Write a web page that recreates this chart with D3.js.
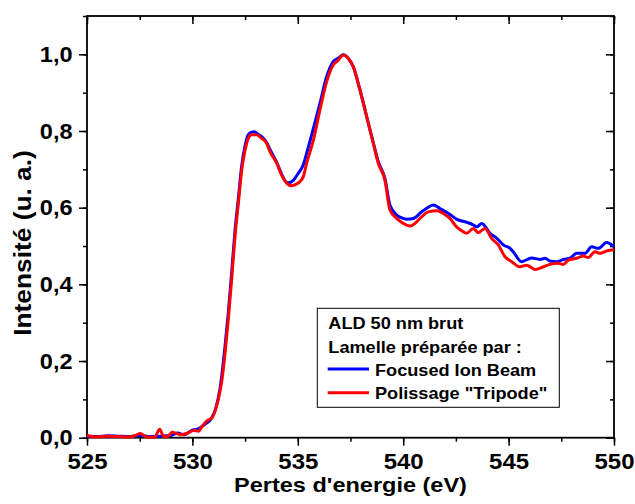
<!DOCTYPE html>
<html><head><meta charset="utf-8">
<script src="https://cdn.jsdelivr.net/npm/d3@7"></script>
<style>body{margin:0;background:#fff}svg{display:block}text{font-family:"Liberation Sans",Arial,sans-serif;font-weight:bold}</style>
</head><body><div id="c"></div>
<script>
// Data
const energyFIB = [525,525.5,526,526.5,527,527.5,528,528.5,529,529.3,529.6,530,530.3,530.6,530.9,531.1,531.3,531.55,531.7,531.86,532.02,532.18,532.34,532.5,532.65,532.8,532.94,533.1,533.3,533.52,533.7,534.0,534.23,534.4,534.55,534.8,535.0,535.26,535.42,535.74,536.05,536.37,536.68,536.92,537.16,537.39,537.63,537.95,538.27,538.58,538.82,539.14,539.37,539.69,540.0,540.17,540.48,540.87,541.1,541.43,541.74,542.15,542.53,543.01,543.3,543.49,543.73,544.12,544.44,544.75,545.07,545.22,545.62,546.09,546.49,546.73,546.96,547.28,547.6,547.91,548.23,548.62,548.94,549.26,549.65,550];
const intensityFIB = [0.004,0.003,0.005,0.004,0.003,0.006,0.003,0.004,0.006,0.012,0.008,0.02,0.024,0.035,0.05,0.075,0.125,0.24,0.325,0.43,0.54,0.625,0.71,0.762,0.79,0.797,0.798,0.792,0.785,0.77,0.75,0.718,0.688,0.67,0.665,0.672,0.688,0.712,0.742,0.807,0.872,0.942,0.981,0.99,0.999,0.99,0.968,0.907,0.837,0.77,0.72,0.675,0.607,0.581,0.572,0.57,0.572,0.589,0.598,0.607,0.598,0.585,0.57,0.562,0.556,0.55,0.559,0.533,0.52,0.503,0.494,0.485,0.459,0.469,0.465,0.468,0.461,0.459,0.465,0.468,0.481,0.481,0.498,0.494,0.509,0.498];
const energyTripode = [525,525.5,526,526.5,527,527.3,527.53,527.8,528.2,528.45,528.64,528.85,529.03,529.43,529.74,530.06,530.3,530.45,530.69,530.93,531.09,531.25,531.4,531.55,531.7,531.86,532.02,532.18,532.34,532.5,532.65,532.81,533.05,533.28,533.52,533.68,534.0,534.23,534.47,534.71,534.95,535.1,535.26,535.42,535.74,536.05,536.37,536.68,536.92,537.16,537.39,537.63,537.95,538.27,538.58,538.82,539.14,539.37,539.69,540.0,540.32,540.56,540.87,541.19,541.59,541.9,542.22,542.53,542.77,543.01,543.32,543.56,543.88,544.19,544.51,544.83,545.15,545.54,545.86,546.25,546.65,546.96,547.36,547.6,547.83,548.23,548.54,548.78,549.1,549.34,549.65,550];
const intensityTripode = [0.006,0.002,0.004,0.003,0.002,0.006,0.011,0.002,0.001,0.022,0.002,0.004,0.014,0.008,0.011,0.019,0.017,0.029,0.044,0.052,0.072,0.105,0.15,0.22,0.307,0.411,0.524,0.611,0.698,0.75,0.781,0.79,0.79,0.781,0.768,0.746,0.716,0.685,0.664,0.657,0.662,0.668,0.681,0.716,0.776,0.855,0.929,0.972,0.985,0.998,0.99,0.968,0.907,0.837,0.768,0.716,0.67,0.594,0.572,0.559,0.552,0.559,0.576,0.589,0.592,0.585,0.572,0.55,0.54,0.533,0.546,0.535,0.546,0.52,0.503,0.472,0.459,0.446,0.45,0.439,0.446,0.452,0.455,0.452,0.463,0.468,0.474,0.47,0.485,0.481,0.487,0.49];
const xTicks = [525,530,535,540,545,550];
const yTicks = [0,0.2,0.4,0.6,0.8,1.0];
const legendTitle = ["ALD 50 nm brut","Lamelle préparée par :"];
const seriesNames = ["Focused Ion Beam","Polissage \"Tripode\""];
const seriesColors = ["#0000ff","#ff0000"];

const W=635,H=504;
const m={l:87,r:614,t:16,b:437.7};
const x=d3.scaleLinear().domain([525,550]).range([m.l,m.r]);
const y=d3.scaleLinear().domain([0,1.1]).range([m.b,m.t]);
const svg=d3.select("#c").append("svg").attr("width",W).attr("height",H);

const fmt=d3.formatLocale({decimal:",",thousands:".",grouping:[3],currency:["",""]}).format(".1f");
const xMinor=d3.range(525,550.01,2.5), yMinor=d3.range(0,1.101,0.1);

function styleAxis(g){g.selectAll("path,line").attr("stroke","#000").attr("stroke-width",1.5);}
function wideText(sel,tx,ty,k,rot){
  sel.attr("x",0).attr("y",0).attr("transform",`translate(${tx},${ty})${rot?` rotate(${rot})`:""} scale(${k},1)`);
  return sel;
}
// minor ticks
svg.append("g").attr("transform",`translate(0,${m.b})`).call(d3.axisBottom(x).tickValues(xMinor).tickSize(4).tickFormat("")).call(styleAxis);
svg.append("g").attr("transform",`translate(0,${m.t})`).call(d3.axisBottom(x).tickValues(xMinor).tickSize(4).tickFormat("")).call(styleAxis);
svg.append("g").attr("transform",`translate(${m.l},0)`).call(d3.axisLeft(y).tickValues(yMinor).tickSize(4).tickFormat("")).call(styleAxis);
svg.append("g").attr("transform",`translate(${m.r},0)`).call(d3.axisLeft(y).tickValues(yMinor).tickSize(4).tickFormat("")).call(styleAxis);
// major
const gx=svg.append("g").attr("transform",`translate(0,${m.b})`).call(d3.axisBottom(x).tickValues(xTicks).tickSize(8).tickPadding(8).tickFormat(d3.format("d"))).call(styleAxis);
gx.selectAll("text").attr("font-size",22).attr("fill","#000").attr("transform","scale(1.09,1)");
svg.append("g").attr("transform",`translate(0,${m.t})`).call(d3.axisBottom(x).tickValues(xTicks).tickSize(8).tickFormat("")).call(styleAxis);
const gy=svg.append("g").attr("transform",`translate(${m.l},0)`).call(d3.axisLeft(y).tickValues(yTicks).tickSize(8).tickPadding(6).tickFormat(fmt)).call(styleAxis);
gy.selectAll("text").attr("font-size",22).attr("fill","#000").attr("x",-14.5/1.07).attr("transform","scale(1.07,1)");
svg.append("g").attr("transform",`translate(${m.r},0)`).call(d3.axisLeft(y).tickValues(yTicks).tickSize(8).tickFormat("")).call(styleAxis);
svg.selectAll(".domain").remove();
svg.append("rect").attr("x",m.l).attr("y",m.t).attr("width",m.r-m.l).attr("height",m.b-m.t).attr("fill","none").attr("stroke","#000").attr("stroke-width",1.8);

// clip & lines
svg.append("clipPath").attr("id","cp").append("rect").attr("x",m.l).attr("y",m.t).attr("width",m.r-m.l).attr("height",m.b-m.t+2);
const line=d3.line().x(d=>x(d[0])).y(d=>y(d[1])).curve(d3.curveMonotoneX);
const series=[d3.zip(energyFIB,intensityFIB),d3.zip(energyTripode,intensityTripode)];
series.forEach((s,i)=>svg.append("path").datum(s).attr("clip-path","url(#cp)").attr("d",line).attr("fill","none").attr("stroke",seriesColors[i]).attr("stroke-width",3).attr("stroke-linejoin","round"));

// axis titles
wideText(svg.append("text").attr("text-anchor","middle").attr("font-size",21).text("Pertes d'energie (eV)"),(m.l+m.r)/2,492,1.12);
wideText(svg.append("text").attr("text-anchor","middle").attr("font-size",23.5).text("Intensité (u. a.)"),31,243,1.12,-90);

// legend
const lg=svg.append("g");
lg.append("rect").attr("x",317.3).attr("y",308.3).attr("width",242).attr("height",99).attr("fill","#fff").attr("stroke","#000").attr("stroke-width",1);
legendTitle.forEach((t,i)=>wideText(lg.append("text").attr("font-size",16.5).text(t),328.3,328.5+i*24.2,1.1));
seriesNames.forEach((t,i)=>{
  const yy=369+i*23.7;
  lg.append("line").attr("x1",327.7).attr("x2",369).attr("y1",yy).attr("y2",yy).attr("stroke",seriesColors[i]).attr("stroke-width",3);
  wideText(lg.append("text").attr("font-size",16.5).text(t),375,yy+6.5,1.1);
});
</script></body></html>
